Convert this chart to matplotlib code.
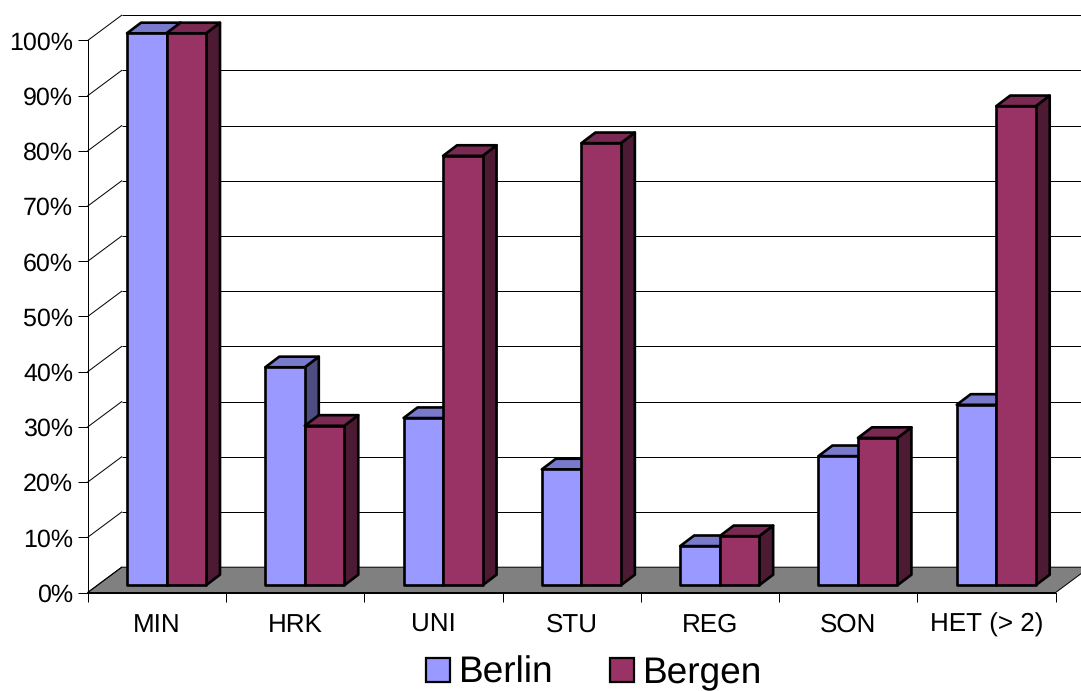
import matplotlib
matplotlib.use("Agg")
import matplotlib.pyplot as plt
from matplotlib.patches import Polygon, Patch

plt.rcParams['font.family'] = ['Liberation Sans', 'DejaVu Sans']
plt.rcParams['text.hinting'] = 'no_hinting'
plt.rcParams['text.hinting_factor'] = 1

categories = ['MIN', 'HRK', 'UNI', 'STU', 'REG', 'SON', 'HET (> 2)']
berlin = [100, 39.5, 30.3, 21.0, 7.1, 23.4, 32.7]
bergen = [100, 28.9, 77.8, 80.1, 8.9, 26.7, 86.8]
pct_ticks = list(range(0, 101, 10))
pct_labels = [f'{v}%' for v in pct_ticks]

W, H = 1081, 691
L_PX, R_PX, B_PX, T_PX = 87.7, 1055.7, 592.5, 40.5
CAT = (R_PX - L_PX) / 7
PCT = (B_PX - T_PX) / 100


def px_x(p):
    return p / CAT


def px_y(p):
    return p / PCT


fig = plt.figure(figsize=(W / 100, H / 100), dpi=100, facecolor='white')
ax = fig.add_axes([L_PX / W, 1 - B_PX / H, (R_PX - L_PX) / W, (B_PX - T_PX) / H])
ax.set_xlim(0, 7)
ax.set_ylim(0, 100)
ax.patch.set_visible(False)

WALL_DX, WALL_DY = px_x(34), px_y(25.3)
BAR_DX, BAR_DY = px_x(14), px_y(10.6)
BAR_OFF, BAR_W = px_x(39.3), px_x(39.5)
BAR_BASE = px_y(7.2)

LINE = 0.72
BARLINE = 1.9

# floor
ax.add_patch(Polygon([(0, 0), (7, 0), (7 + WALL_DX, WALL_DY), (WALL_DX, WALL_DY)],
                     closed=True, fc='#808080', ec='black', lw=LINE,
                     clip_on=False, zorder=1))
# back wall gridlines and left wall lines
for v in pct_ticks:
    if v > 0:
        ax.plot([WALL_DX, 7 + WALL_DX], [v + WALL_DY, v + WALL_DY], color='black',
                lw=LINE, clip_on=False, zorder=1, solid_capstyle='butt')
    ax.plot([0, WALL_DX], [v, v + WALL_DY], color='black', lw=LINE,
            clip_on=False, zorder=1)


def bar3d(x0, value, front, top, side, z):
    x1 = x0 + BAR_W
    y0 = BAR_BASE
    y1 = BAR_BASE + value
    kw = dict(closed=True, ec='black', lw=BARLINE, joinstyle='round',
              clip_on=False, zorder=z)
    ax.add_patch(Polygon([(x1, y0), (x1 + BAR_DX, y0 + BAR_DY),
                          (x1 + BAR_DX, y1 + BAR_DY), (x1, y1)], fc=side, **kw))
    ax.add_patch(Polygon([(x0, y1), (x1, y1), (x1 + BAR_DX, y1 + BAR_DY),
                          (x0 + BAR_DX, y1 + BAR_DY)], fc=top, **kw))
    ax.add_patch(Polygon([(x0, y0), (x1, y0), (x1, y1), (x0, y1)], fc=front, **kw))


for i in range(len(categories)):
    x = i + BAR_OFF
    bar3d(x, berlin[i], '#9999FF', '#7A7ACC', '#4D4D80', 3 + i * 2)
    bar3d(x + BAR_W, bergen[i], '#993366', '#7A2952', '#4D1A33', 4 + i * 2)

# axes
for s in ('top', 'right'):
    ax.spines[s].set_visible(False)
for s in ('left', 'bottom'):
    ax.spines[s].set_linewidth(LINE)
    ax.spines[s].set_zorder(30)

ax.set_yticks(pct_ticks)
ax.set_yticklabels(pct_labels)
ax.tick_params(axis='y', length=7, width=LINE, pad=3.6, labelsize=18.3)
ax.set_xticks(range(0, 8))
ax.set_xticklabels([])
ax.set_xticks([i + 0.5 for i in range(7)], minor=True)
ax.set_xticklabels(categories, minor=True)
ax.tick_params(axis='x', which='major', length=6.5, width=LINE)
ax.tick_params(axis='x', which='minor', length=0, pad=14.6, labelsize=18.6)

handles = [Patch(fc='#9999FF', ec='black', lw=1.6, label='Berlin'),
           Patch(fc='#993366', ec='black', lw=1.6, label='Bergen')]
fig.legend(handles=handles, ncol=2, frameon=False, fontsize=26.5,
           loc='center', bbox_to_anchor=(594.3 / W, 1 - 673.5 / H),
           handlelength=0.65, handleheight=0.65, handletextpad=0.25,
           columnspacing=1.52, borderpad=0, borderaxespad=0)

fig.savefig('out.png', dpi=100)
